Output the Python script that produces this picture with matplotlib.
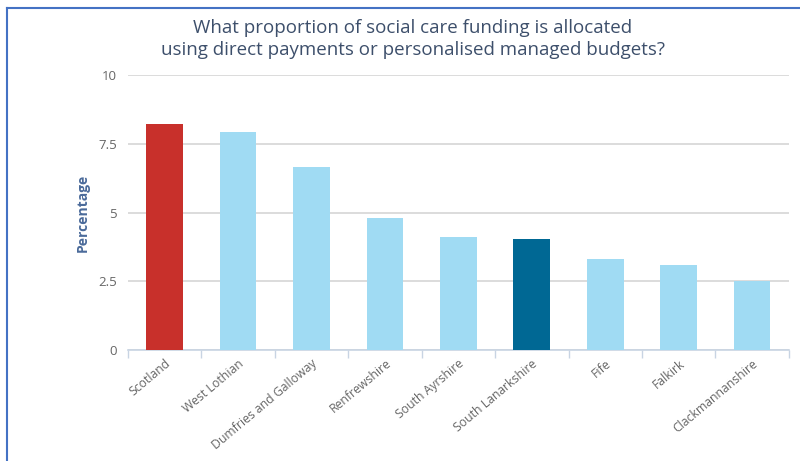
import matplotlib.pyplot as plt
from matplotlib.lines import Line2D

plt.rcParams['font.family'] = ['Open Sans', 'DejaVu Sans']

areas = ['Scotland', 'West Lothian', 'Dumfries and Galloway', 'Renfrewshire',
         'South Ayrshire', 'South Lanarkshire', 'Fife', 'Falkirk', 'Clackmannanshire']
values = [8.22, 7.92, 6.65, 4.8, 4.11, 4.04, 3.31, 3.09, 2.51]
colors = ['#c8302b', '#a0dbf3', '#a0dbf3', '#a0dbf3', '#a0dbf3',
          '#006894', '#a0dbf3', '#a0dbf3', '#a0dbf3']
yticks = [0, 2.5, 5, 7.5, 10]
ytick_labels = ['0', '2.5', '5', '7.5', '10']

fig = plt.figure(figsize=(8, 4.61), dpi=100)
ax = fig.add_axes([0.16, 0.2408, 0.826, 0.5962])

x = range(len(areas))
ax.bar(x, values, width=0.5, color=colors, zorder=3)

ax.set_xlim(-0.5, len(areas) - 0.5)
ax.set_ylim(0, 10)
ax.set_yticks(yticks)
ax.set_yticklabels(ytick_labels)
ax.yaxis.grid(True, color='#d5d5d5', linewidth=1.2, zorder=0)
ax.tick_params(axis='y', length=0, labelsize=9.5, labelcolor='#666666', pad=8)

ax.set_xticks(x)
ax.set_xticklabels(areas, rotation=40, ha='right', rotation_mode='anchor',
                   fontsize=8.8, color='#666666')
ax.tick_params(axis='x', length=0, pad=5)
ax.set_xticks([i - 0.5 for i in range(len(areas) + 1)], minor=True)
ax.tick_params(axis='x', which='minor', length=6, color='#c8d4e3', width=1)

for s in ['top', 'right', 'left']:
    ax.spines[s].set_visible(False)
ax.spines['bottom'].set_color('#c8d4e3')
ax.spines['bottom'].set_linewidth(1.2)

ax.set_ylabel('Percentage', fontsize=10, fontweight='bold', color='#4a6a9a', labelpad=6)

fig.text(0.516, 0.915, 'What proportion of social care funding is allocated\n'
         'using direct payments or personalised managed budgets?',
         ha='center', va='center', fontsize=13.5, color='#3d4f6b', linespacing=1.25)

fig.add_artist(Line2D([0.009, 0.009], [0, 0.983], color='#4472c4', linewidth=1.5,
                      transform=fig.transFigure))
fig.add_artist(Line2D([0.009, 1], [0.983, 0.983], color='#4472c4', linewidth=1.5,
                      transform=fig.transFigure))

fig.savefig('out.png', dpi=100)
